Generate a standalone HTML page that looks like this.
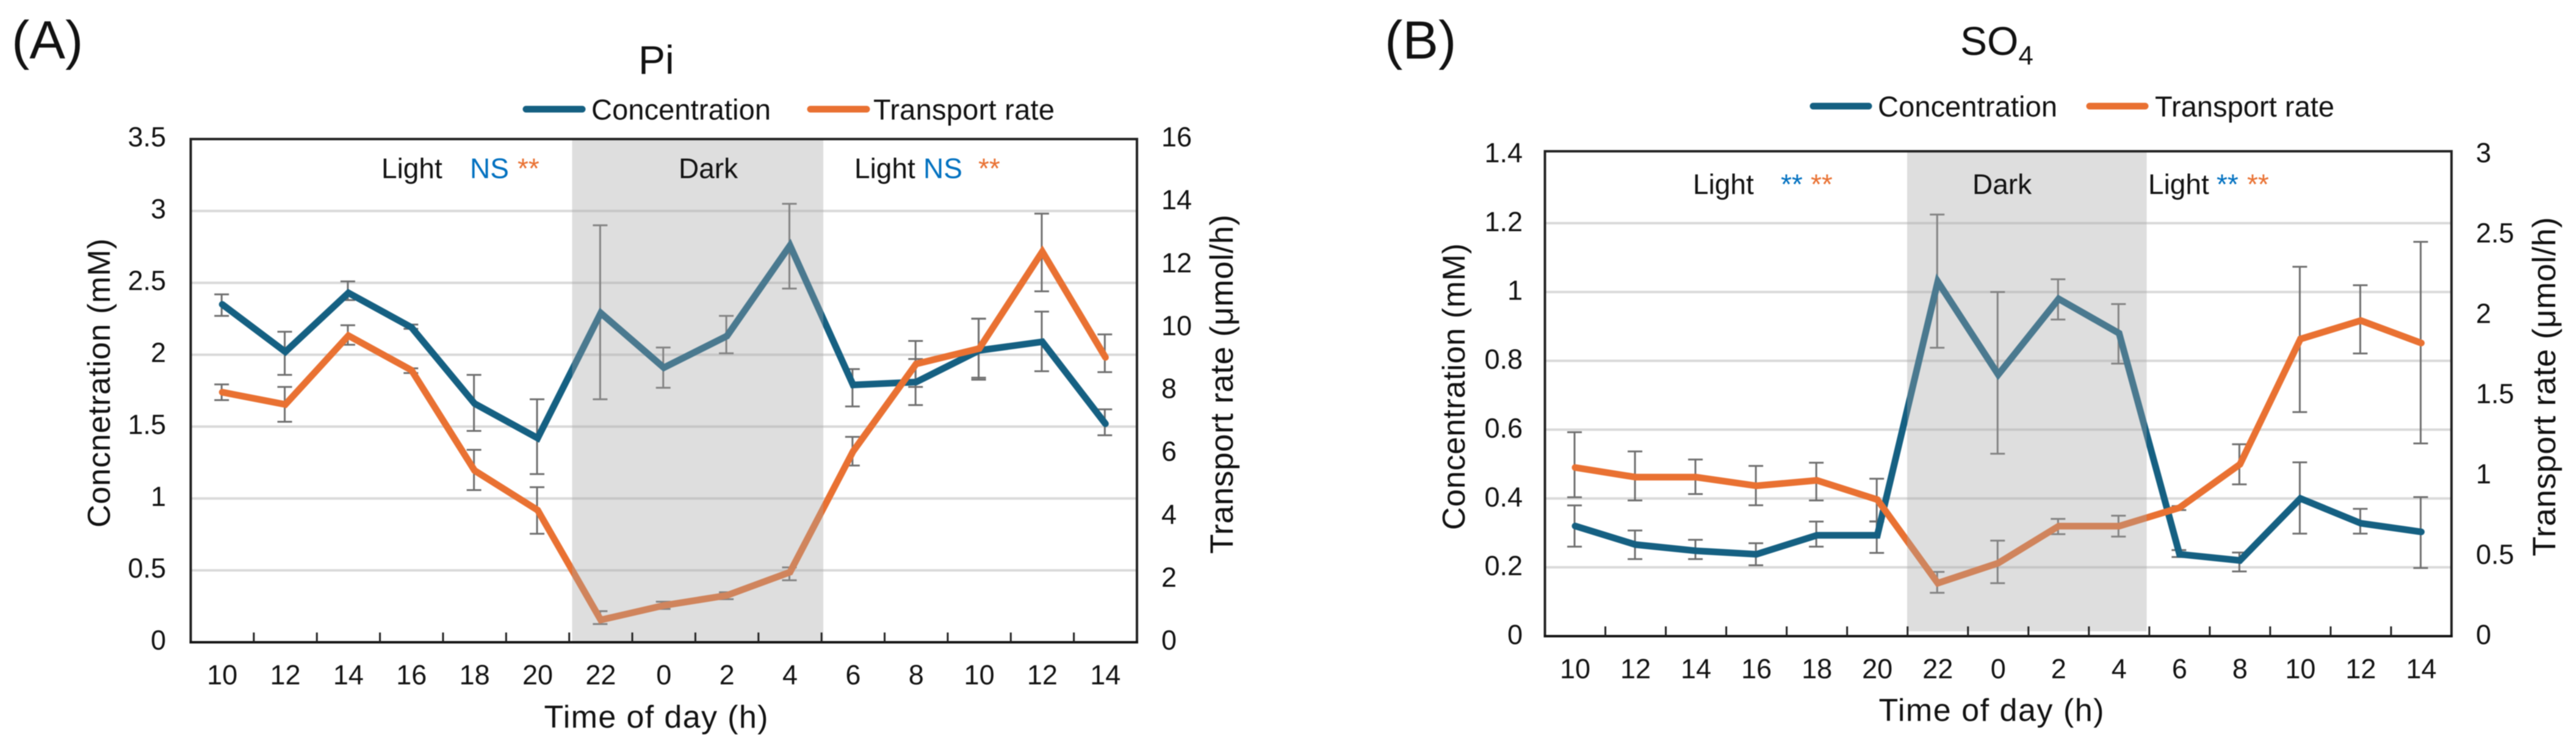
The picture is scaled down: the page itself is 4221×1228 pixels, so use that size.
<!DOCTYPE html>
<html lang="en">
<head>
<meta charset="utf-8">
<title>Pi and SO4 concentration and transport rate</title>
<style>
html,body{margin:0;padding:0;background:#fff;}
svg{display:block;font-family:"Liberation Sans",Arial,sans-serif;filter:blur(0.8px);}
</style>
</head>
<body>
<svg id="figure" xmlns="http://www.w3.org/2000/svg" width="4221" height="1228" viewBox="0 0 4221 1228">
  <rect width="4221" height="1228" fill="#fff"/>
  <g id="panel-a"></g>
  <g id="panel-b"></g>

  <text x="19" y="96" font-size="88" fill="#111">(A)</text>
  <text x="1046" y="121" font-size="66" fill="#111">Pi</text>
  <line x1="862" y1="179" x2="954" y2="179" stroke="#156082" stroke-width="11" stroke-linecap="round"/>
  <text x="969" y="196" font-size="47" fill="#111" textLength="294" lengthAdjust="spacing">Concentration</text>
  <line x1="1328" y1="179" x2="1420" y2="179" stroke="#E97132" stroke-width="11" stroke-linecap="round"/>
  <text x="1431" y="196" font-size="47" fill="#111" textLength="297" lengthAdjust="spacing">Transport rate</text>
  <text transform="translate(180 628) rotate(-90)" text-anchor="middle" font-size="52" fill="#111" textLength="474" lengthAdjust="spacing">Concnetration (mM)</text>
  <text transform="translate(2020 630) rotate(-90)" text-anchor="middle" font-size="53" fill="#111" textLength="556" lengthAdjust="spacing">Transport rate (μmol/h)</text>
  <text x="1075" y="1193" text-anchor="middle" font-size="52" fill="#111" textLength="367" lengthAdjust="spacing">Time of day (h)</text>
  <text x="625" y="292" font-size="46" fill="#111">Light</text>
  <text x="770" y="292" font-size="46" fill="#0070C0">NS</text>
  <text x="848" y="292" font-size="46" fill="#E97132">**</text>
  <text x="1112" y="292" font-size="46" fill="#111">Dark</text>
  <text x="1400" y="292" font-size="46" fill="#111">Light</text>
  <text x="1513" y="292" font-size="46" fill="#0070C0">NS</text>
  <text x="1603" y="292" font-size="46" fill="#E97132">**</text>

  <text x="2269" y="96" font-size="88" fill="#111">(B)</text>
  <text x="3212" y="90" font-size="66" fill="#111">SO<tspan font-size="44" dy="16">4</tspan></text>
  <line x1="2971" y1="174" x2="3062" y2="174" stroke="#156082" stroke-width="11" stroke-linecap="round"/>
  <text x="3077" y="191" font-size="47" fill="#111" textLength="294" lengthAdjust="spacing">Concentration</text>
  <line x1="3424" y1="174" x2="3515" y2="174" stroke="#E97132" stroke-width="11" stroke-linecap="round"/>
  <text x="3531" y="191" font-size="47" fill="#111" textLength="294" lengthAdjust="spacing">Transport rate</text>
  <text transform="translate(2400 634) rotate(-90)" text-anchor="middle" font-size="52" fill="#111" textLength="470" lengthAdjust="spacing">Concentration (mM)</text>
  <text transform="translate(4187 634) rotate(-90)" text-anchor="middle" font-size="53" fill="#111" textLength="556" lengthAdjust="spacing">Transport rate (μmol/h)</text>
  <text x="3263" y="1182" text-anchor="middle" font-size="52" fill="#111" textLength="369" lengthAdjust="spacing">Time of day (h)</text>
  <text x="2774" y="318" font-size="46" fill="#111">Light</text>
  <text x="2918" y="318" font-size="46" fill="#0070C0">**</text>
  <text x="2967" y="318" font-size="46" fill="#E97132">**</text>
  <text x="3232" y="318" font-size="46" fill="#111">Dark</text>
  <text x="3520" y="318" font-size="46" fill="#111">Light</text>
  <text x="3632" y="318" font-size="46" fill="#0070C0">**</text>
  <text x="3682" y="318" font-size="46" fill="#E97132">**</text>
</svg>

<script>
var timeLabels = ['10','12','14','16','18','20','22','0','2','4','6','8','10','12','14'];

var piLeftTicks = [0, 0.5, 1, 1.5, 2, 2.5, 3, 3.5];
var piRightTicks = [0, 2, 4, 6, 8, 10, 12, 14, 16];
var piConcentration = [2.35, 2.02, 2.43, 2.19, 1.66, 1.42, 2.29, 1.91, 2.13, 2.76, 1.79, 1.81, 2.03, 2.09, 1.52];
var piConcentrationUpper = [2.42, 2.16, 2.51, 2.21, 1.86, 1.69, 2.90, 2.05, 2.27, 3.05, 1.90, 1.97, 2.25, 2.30, 1.62];
var piConcentrationLower = [2.27, 1.86, 2.38, 2.18, 1.47, 1.17, 1.69, 1.77, 2.01, 2.46, 1.64, 1.65, 1.84, 1.885, 1.44];
var piTransport = [7.95, 7.56, 9.75, 8.65, 5.46, 4.20, 0.71, 1.17, 1.49, 2.23, 6.07, 8.85, 9.34, 12.42, 9.06];
var piTransportUpper = [8.20, 8.12, 10.08, 8.71, 6.12, 4.93, 0.99, 1.29, 1.59, 2.38, 6.53, 9.58, 10.29, 13.63, 9.79];
var piTransportLower = [7.70, 7.01, 9.46, 8.56, 4.84, 3.45, 0.58, 1.06, 1.37, 1.97, 5.62, 8.12, 8.35, 11.16, 8.59];

var so4LeftTicks = [0, 0.2, 0.4, 0.6, 0.8, 1, 1.2, 1.4];
var so4RightTicks = [0, 0.5, 1, 1.5, 2, 2.5, 3];
var so4Concentration = [0.32, 0.266, 0.248, 0.238, 0.293, 0.293, 1.03, 0.76, 0.98, 0.88, 0.238, 0.22, 0.40, 0.328, 0.303];
var so4ConcentrationUpper = [0.38, 0.307, 0.28, 0.27, 0.333, 0.333, 1.225, 1.0, 1.037, 0.965, 0.25, 0.243, 0.505, 0.37, 0.404];
var so4ConcentrationLower = [0.26, 0.224, 0.224, 0.206, 0.26, 0.242, 0.838, 0.53, 0.92, 0.792, 0.23, 0.188, 0.298, 0.298, 0.198];
var so4Transport = [1.05, 0.99, 0.99, 0.936, 0.97, 0.85, 0.33, 0.455, 0.685, 0.685, 0.80, 1.07, 1.85, 1.965, 1.825];
var so4TransportUpper = [1.27, 1.15, 1.10, 1.06, 1.08, 0.98, 0.40, 0.595, 0.73, 0.75, 0.81, 1.195, 2.30, 2.185, 2.455];
var so4TransportLower = [0.865, 0.845, 0.885, 0.815, 0.845, 0.715, 0.27, 0.33, 0.635, 0.62, 0.785, 0.945, 1.395, 1.76, 1.20];

var SVG_NS = 'http://www.w3.org/2000/svg';

function make(parent, tag, attrs) {
  var el = document.createElementNS(SVG_NS, tag);
  for (var k in attrs) { el.setAttribute(k, attrs[k]); }
  parent.appendChild(el);
  return el;
}

function drawPanel(cfg) {
  var root = document.getElementById(cfg.id);
  var prefix = cfg.id;
  var step = (cfg.right - cfg.left) / cfg.categories.length;
  function xAt(i) { return cfg.left + step * (i + 0.5); }
  function yLeft(v) { return cfg.bottom - v / cfg.leftMax * (cfg.bottom - cfg.axisTop); }
  function yRight(v) { return cfg.bottom - v / cfg.rightMax * (cfg.bottom - cfg.axisTop); }

  // gridlines
  cfg.leftTicks.forEach(function (t) {
    if (t === 0 || t === cfg.leftMax) { return; }
    var g = make(root, 'line', { x1: cfg.left, x2: cfg.right, y1: yLeft(t), y2: yLeft(t), stroke: '#d9d9d9', 'stroke-width': 4 });
    
    
  });

  // error bars
  function errorBars(upper, lower, yFn, seriesName) {
    upper.forEach(function (u, i) {
      var l = lower[i];
      var x = xAt(i) - 1;
      var e = make(root, 'path', {
        d: 'M' + (x - 12) + ' ' + yFn(u) + 'H' + (x + 12) + 'M' + x + ' ' + yFn(u) + 'V' + yFn(l) + 'M' + (x - 12) + ' ' + yFn(l) + 'H' + (x + 12),
        fill: 'none', stroke: '#6f6f6f', 'stroke-width': 3
      });
      
      
    });
  }
  errorBars(cfg.concUpper, cfg.concLower, yLeft, 'concentration');
  errorBars(cfg.transUpper, cfg.transLower, yRight, 'transport');

  // series lines
  function seriesLine(values, yFn, color, seriesName) {
    var pts = values.map(function (v, i) { return xAt(i) + ',' + yFn(v); }).join(' ');
    var p = make(root, 'polyline', { points: pts, fill: 'none', stroke: color, 'stroke-width': 11, 'stroke-linejoin': 'miter', 'stroke-linecap': 'round' });
    
    
  }
  seriesLine(cfg.conc, yLeft, '#156082', 'concentration');
  seriesLine(cfg.trans, yRight, '#E97132', 'transport');

  // translucent dark-period band over the marks
  var band = make(root, 'rect', { x: cfg.bandLeft, y: cfg.bandTop, width: cfg.bandRight - cfg.bandLeft, height: cfg.bandBottom - cfg.bandTop, fill: 'rgb(165,165,165)', 'fill-opacity': 0.367 });
  
  

  // frame
  var frame = make(root, 'path', {
    d: 'M' + cfg.left + ' ' + cfg.bottom + 'V' + cfg.top + 'H' + cfg.right + 'V' + cfg.bottom,
    fill: 'none', stroke: '#222', 'stroke-width': 4
  });
  
  
  var axis = make(root, 'line', { x1: cfg.left - 2, x2: cfg.right + 2, y1: cfg.bottom, y2: cfg.bottom, stroke: '#111', 'stroke-width': 4 });
  
  

  // x ticks and labels
  cfg.categories.forEach(function (label, i) {
    if (i > 0) {
      var tx = cfg.left + step * i;
      var tick = make(root, 'line', { x1: tx, x2: tx, y1: cfg.bottom - 16, y2: cfg.bottom, stroke: '#222', 'stroke-width': 3 });
      
      
    }
    var t = make(root, 'text', { x: xAt(i), y: cfg.xLabelY, 'text-anchor': 'middle', 'font-size': 45, fill: '#111' });
    t.textContent = label;
    
    
  });

  // y tick labels
  cfg.leftTicks.forEach(function (v) {
    var t = make(root, 'text', { x: cfg.leftLabelX, y: yLeft(v) + cfg.labelShift, 'text-anchor': 'end', 'font-size': 45, fill: '#111' });
    t.textContent = String(v);
    
    
  });
  cfg.rightTicks.forEach(function (v) {
    var t = make(root, 'text', { x: cfg.rightLabelX, y: yRight(v) + cfg.labelShift, 'text-anchor': 'start', 'font-size': 45, fill: '#111' });
    t.textContent = String(v);
    
    
  });
}

drawPanel({
  id: 'panel-a', left: 312.5, right: 1863, top: 228, axisTop: 228, bottom: 1053,
  bandLeft: 937.5, bandRight: 1349, bandTop: 230, bandBottom: 1051,
  leftMax: 3.5, rightMax: 16, xLabelY: 1122, leftLabelX: 272, rightLabelX: 1903, labelShift: 12,
  categories: timeLabels, leftTicks: piLeftTicks, rightTicks: piRightTicks,
  conc: piConcentration, concUpper: piConcentrationUpper, concLower: piConcentrationLower,
  trans: piTransport, transUpper: piTransportUpper, transLower: piTransportLower
});

drawPanel({
  id: 'panel-b', left: 2531.5, right: 4017, top: 248, axisTop: 253, bottom: 1043,
  bandLeft: 3125, bandRight: 3517.5, bandTop: 250, bandBottom: 1035,
  leftMax: 1.4, rightMax: 3, xLabelY: 1112, leftLabelX: 2495, rightLabelX: 4057, labelShift: 13,
  categories: timeLabels, leftTicks: so4LeftTicks, rightTicks: so4RightTicks,
  conc: so4Concentration, concUpper: so4ConcentrationUpper, concLower: so4ConcentrationLower,
  trans: so4Transport, transUpper: so4TransportUpper, transLower: so4TransportLower
});
</script>
</body>
</html>
